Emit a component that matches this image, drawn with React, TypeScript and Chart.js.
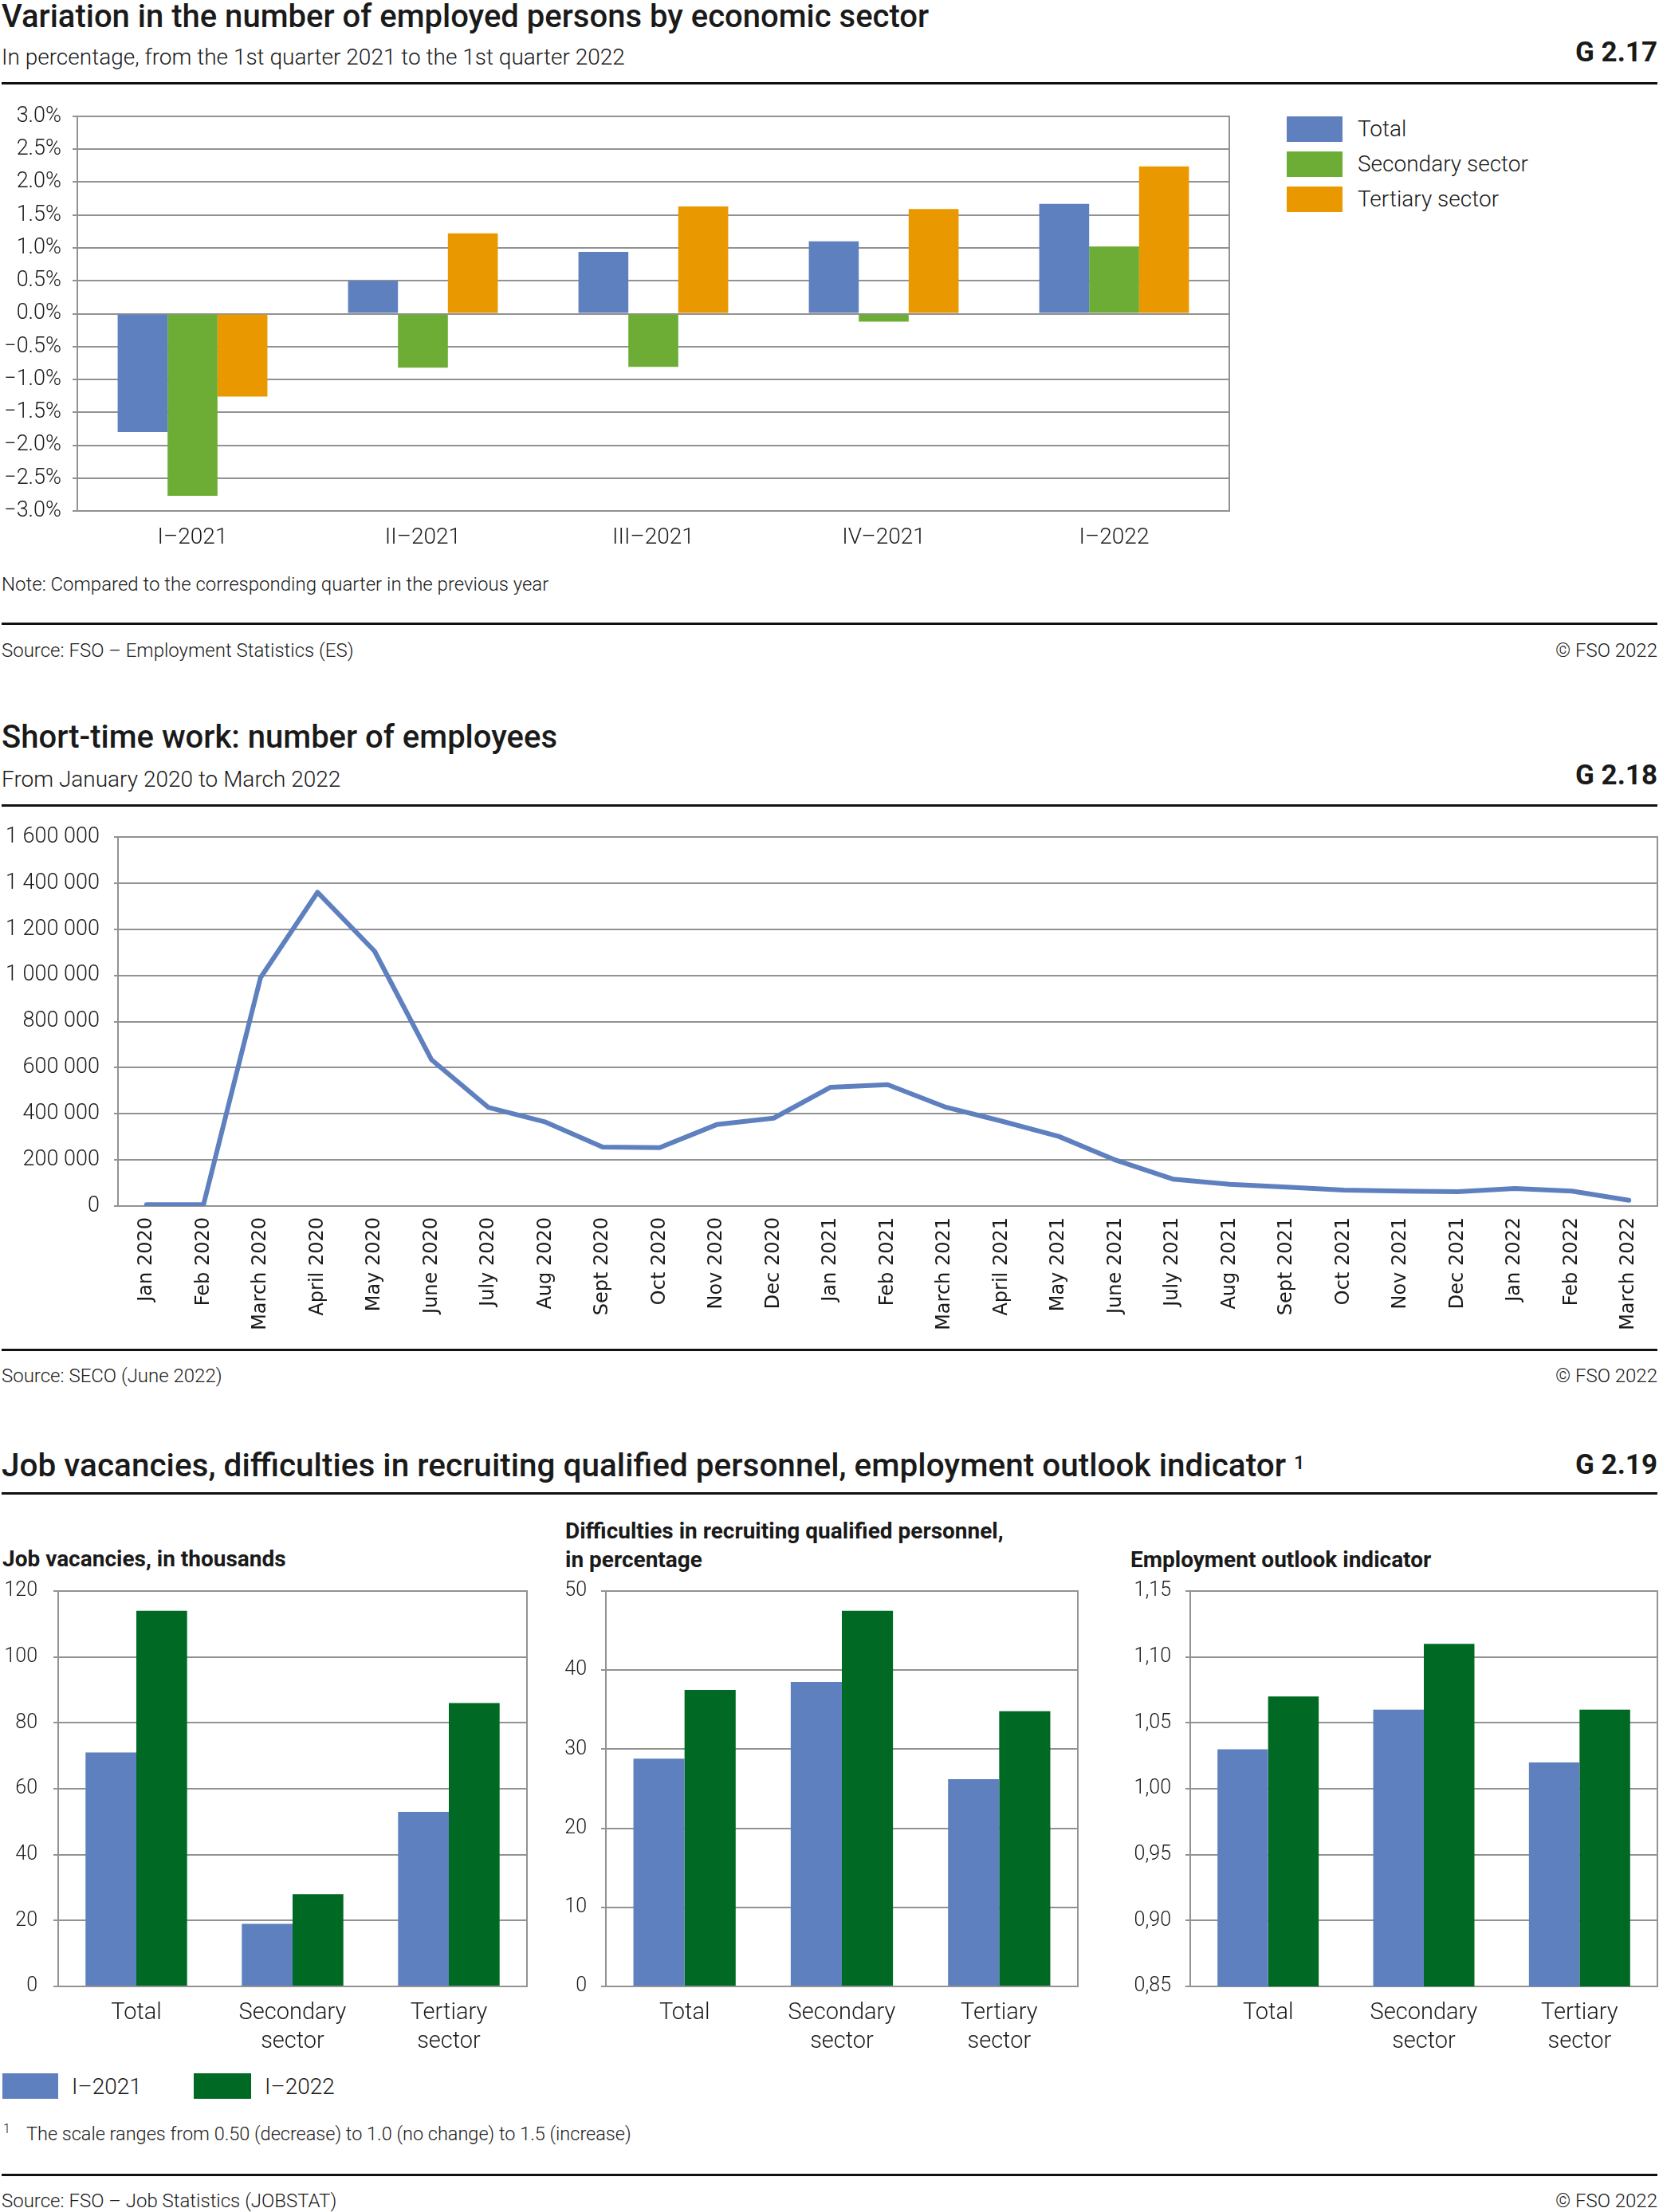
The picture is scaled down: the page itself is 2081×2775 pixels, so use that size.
import React, { useEffect, useRef } from 'react';
import { Chart, registerables } from 'chart.js';

Chart.register(...registerables);

// ---------------- data ----------------
const quarterLabels = ['I–2021', 'II–2021', 'III–2021', 'IV–2021', 'I–2022'];
const changeSeriesNames = ['Total', 'Secondary sector', 'Tertiary sector'];
const totalChange = [-1.8, 0.5, 0.94, 1.1, 1.67];
const secondaryChange = [-2.77, -0.82, -0.81, -0.12, 1.02];
const tertiaryChange = [-1.26, 1.22, 1.63, 1.59, 2.24];

const monthLabels = [
  'Jan 2020', 'Feb 2020', 'March 2020', 'April 2020', 'May 2020', 'June 2020', 'July 2020',
  'Aug 2020', 'Sept 2020', 'Oct 2020', 'Nov 2020', 'Dec 2020', 'Jan 2021', 'Feb 2021',
  'March 2021', 'April 2021', 'May 2021', 'June 2021', 'July 2021', 'Aug 2021', 'Sept 2021',
  'Oct 2021', 'Nov 2021', 'Dec 2021', 'Jan 2022', 'Feb 2022', 'March 2022',
];
const shortTimeWorkers = [
  6000, 6000, 990000, 1360000, 1105000, 634000, 427000, 364000, 256000, 253000, 353000, 381000,
  515000, 526000, 430000, 368000, 302000, 199000, 117000, 94000, 82000, 69000, 65000, 62000,
  76000, 65000, 25000,
];

const sectorLabels = ['Total', 'Secondary sector', 'Tertiary sector'];
const periodNames = ['I–2021', 'I–2022'];
const vacancies2021 = [71, 19, 53];
const vacancies2022 = [114, 28, 86];
const difficulty2021 = [28.8, 38.5, 26.2];
const difficulty2022 = [37.5, 47.5, 34.8];
const outlook2021 = [1.03, 1.06, 1.02];
const outlook2022 = [1.07, 1.11, 1.06];

// ---------------- styles ----------------
const BLUE = '#5f80bf';
const LGREEN = '#6dac35';
const ORANGE = '#e99800';
const DGREEN = '#006a24';
const GRID = '#929292';
const TEXT = '#1a1a1a';
const FONT = 'Roboto';

Chart.defaults.color = TEXT;
Chart.defaults.font.family = FONT;

const framePlugin = {
  id: 'frame',
  beforeDatasetsDraw(chart: any) {
    const { ctx, chartArea: a } = chart;
    ctx.save();
    ctx.strokeStyle = GRID;
    ctx.lineWidth = 2;
    ctx.strokeRect(a.left, a.top, a.right - a.left, a.bottom - a.top);
    ctx.restore();
  },
};

const lightFont = (size: number, lineHeight = 1.2) => ({ family: FONT, size, weight: '300' as any, lineHeight });

function ChartCanvas({ left, top, width, height, config }: any) {
  const ref = useRef<HTMLCanvasElement>(null);
  useEffect(() => {
    const chart = new Chart(ref.current as HTMLCanvasElement, config);
    return () => chart.destroy();
  }, []);
  return (
    <canvas
      ref={ref}
      width={width}
      height={height}
      style={{ position: 'absolute', left, top, width, height }}
    />
  );
}

const baseOptions = {
  responsive: false,
  animation: false,
  devicePixelRatio: 1,
  plugins: { legend: { display: false }, tooltip: { enabled: false } },
};

// fixes the y axis width and removes its automatic label padding
const fixY = (w: number) => (s: any) => {
  s.width = w;
  s.paddingTop = 0;
  s.paddingBottom = 0;
};
const fixX = (h: number) => (s: any) => {
  s.height = h;
  s.paddingLeft = 0;
  s.paddingRight = 0;
};

const fmtPct = (v: number) => (v < 0 ? '−' : '') + Math.abs(v).toFixed(1) + '%';
const fmtSpace = (v: number) => String(Math.round(v)).replace(/\B(?=(\d{3})+(?!\d))/g, ' ');

const changeConfig: any = {
  type: 'bar',
  data: {
    labels: quarterLabels,
    datasets: [
      { label: changeSeriesNames[0], data: totalChange, backgroundColor: BLUE },
      { label: changeSeriesNames[1], data: secondaryChange, backgroundColor: LGREEN },
      { label: changeSeriesNames[2], data: tertiaryChange, backgroundColor: ORANGE },
    ],
  },
  options: {
    ...baseOptions,
    layout: { padding: { top: 26, right: 18, left: 0, bottom: 0 } },
    datasets: { bar: { categoryPercentage: 0.65, barPercentage: 1 } },
    scales: {
      x: {
        grid: { display: false, drawTicks: false },
        border: { display: false },
        ticks: { font: lightFont(28), color: TEXT, padding: 17 },
        afterFit: fixX(59),
      },
      y: {
        min: -3,
        max: 3,
        ticks: { stepSize: 0.5, font: lightFont(27), color: TEXT, padding: 14, callback: (v: any) => fmtPct(Number(v)) },
        grid: { color: GRID, lineWidth: 2, tickLength: 6 },
        border: { display: false },
        afterFit: fixY(97),
      },
    },
  },
  plugins: [framePlugin],
};

const stwConfig: any = {
  type: 'line',
  data: {
    labels: monthLabels,
    datasets: [
      {
        data: shortTimeWorkers,
        borderColor: BLUE,
        borderWidth: 6,
        pointRadius: 0,
        tension: 0,
        fill: false,
        borderJoinStyle: 'round',
        borderCapStyle: 'round',
      },
    ],
  },
  options: {
    ...baseOptions,
    layout: { padding: { top: 30, right: 2, left: 0, bottom: 0 }, autoPadding: false },
    scales: {
      x: {
        offset: true,
        grid: { display: false, drawTicks: false },
        border: { display: false },
        ticks: {
          autoSkip: false,
          minRotation: 90,
          maxRotation: 90,
          font: { family: 'DejaVu Sans', size: 24, lineHeight: 1.2 },
          color: TEXT,
          padding: 14,
        },
        afterFit: fixX(177),
      },
      y: {
        min: 0,
        max: 1600000,
        ticks: { stepSize: 200000, font: lightFont(27), color: TEXT, padding: 18, callback: (v: any) => fmtSpace(Number(v)) },
        grid: { color: GRID, lineWidth: 2, tickLength: 5 },
        border: { display: false },
        afterFit: fixY(148),
      },
    },
  },
  plugins: [framePlugin],
};

function sectorConfig(d1: number[], d2: number[], min: number, max: number, step: number, fmt: (v: number) => string, yw: number, pr: number, pad: number) {
  return {
    type: 'bar',
    data: {
      labels: sectorLabels,
      datasets: [
        { label: periodNames[0], data: d1, backgroundColor: BLUE },
        { label: periodNames[1], data: d2, backgroundColor: DGREEN },
      ],
    },
    options: {
      ...baseOptions,
      layout: { padding: { top: 16, right: pr, left: 0, bottom: 0 } },
      datasets: { bar: { categoryPercentage: 0.65, barPercentage: 1 } },
      scales: {
        x: {
          grid: { display: false, drawTicks: false },
          border: { display: false },
          ticks: {
            font: lightFont(29, 1.24),
            color: TEXT,
            padding: 16,
            callback: (_v: any, i: number) => sectorLabels[i].split(' '),
          },
          afterFit: fixX(98),
        },
        y: {
          min,
          max,
          ticks: { stepSize: step, font: lightFont(25), color: TEXT, padding: pad, callback: (v: any) => fmt(Number(v)) },
          grid: { color: GRID, lineWidth: 2, tickLength: 6 },
          border: { display: false },
          afterFit: fixY(yw),
        },
      },
    },
    plugins: [framePlugin],
  } as any;
}

const vacConfig = sectorConfig(vacancies2021, vacancies2022, 0, 120, 20, (v) => String(v), 73, 19, 20);
const diffConfig = sectorConfig(difficulty2021, difficulty2022, 0, 50, 10, (v) => String(v), 80, 18, 18);
const outlookConfig = sectorConfig(outlook2021, outlook2022, 0.85, 1.15, 0.05, (v) => v.toFixed(2).replace('.', ','), 113, 2, 18);

// ---------------- layout helpers ----------------
function Txt({ x, right, cy, size, weight = 300, children, family }: any) {
  const lh = size * 1.2;
  const s: any = {
    position: 'absolute',
    top: cy - lh / 2,
    fontSize: size,
    lineHeight: lh + 'px',
    fontWeight: weight,
    whiteSpace: 'nowrap',
    color: TEXT,
  };
  if (family) s.fontFamily = family;
  if (right !== undefined) s.right = right;
  else s.left = x;
  return <div style={s}>{children}</div>;
}

function Rule({ y, thick = 3 }: any) {
  return <div style={{ position: 'absolute', left: 2, width: 2077, top: y - thick / 2, height: thick, background: '#111' }} />;
}

function Swatch({ x, y, w, h, color }: any) {
  return <div style={{ position: 'absolute', left: x, top: y, width: w, height: h, background: color }} />;
}

export default function App() {
  return (
    <div
      style={{
        position: 'absolute',
        left: 0,
        top: 0,
        width: 2081,
        height: 2775,
        background: '#fff',
        fontFamily: FONT,
        overflow: 'hidden',
      }}
    >
      {/* ---------- G 2.17 ---------- */}
      <Txt x={2} cy={21} size={40} weight={500}>Variation in the number of employed persons by economic sector</Txt>
      <Txt x={2} cy={72} size={28}>In percentage, from the 1st quarter 2021 to the 1st quarter 2022</Txt>
      <Txt right={2} cy={66} size={35} weight={700}>G 2.17</Txt>
      <Rule y={104} />
      <ChartCanvas left={0} top={120} width={1560} height={580} config={changeConfig} />
      <Swatch x={1614} y={146} w={70} h={32} color={BLUE} />
      <Swatch x={1614} y={190} w={70} h={32} color={LGREEN} />
      <Swatch x={1614} y={234} w={70} h={32} color={ORANGE} />
      <Txt x={1703} cy={162} size={28}>{changeSeriesNames[0]}</Txt>
      <Txt x={1703} cy={206} size={28}>{changeSeriesNames[1]}</Txt>
      <Txt x={1703} cy={250} size={28}>{changeSeriesNames[2]}</Txt>
      <Txt x={2} cy={733} size={24}>Note: Compared to the corresponding quarter in the previous year</Txt>
      <Rule y={782} />
      <Txt x={2} cy={816} size={24}>Source: FSO – Employment Statistics (ES)</Txt>
      <Txt right={2} cy={816} size={24}>© FSO 2022</Txt>

      {/* ---------- G 2.18 ---------- */}
      <Txt x={2} cy={925} size={40} weight={500}>Short-time work: number of employees</Txt>
      <Txt x={2} cy={978} size={28}>From January 2020 to March 2022</Txt>
      <Txt right={2} cy={973} size={35} weight={700}>G 2.18</Txt>
      <Rule y={1010} />
      <ChartCanvas left={0} top={1020} width={2081} height={670} config={stwConfig} />
      <Rule y={1693} />
      <Txt x={2} cy={1726} size={24}>Source: SECO (June 2022)</Txt>
      <Txt right={2} cy={1726} size={24}>© FSO 2022</Txt>

      {/* ---------- G 2.19 ---------- */}
      <Txt x={2} cy={1838} size={40.5} weight={500}>
        Job vacancies, difficulties in recruiting qualified personnel, employment outlook indicator{' '}
        <span style={{ fontSize: 24, verticalAlign: 'top', position: 'relative', top: -3 }}>1</span>
      </Txt>
      <Txt right={2} cy={1838} size={35} weight={700}>G 2.19</Txt>
      <Rule y={1873} />

      <Txt x={3} cy={1956} size={28} weight={700}>Job vacancies, in thousands</Txt>
      <Txt x={709} cy={1921} size={28} weight={700}>Difficulties in recruiting qualified personnel,</Txt>
      <Txt x={709} cy={1957} size={28} weight={700}>in percentage</Txt>
      <Txt x={1418} cy={1957} size={28} weight={700}>Employment outlook indicator</Txt>

      <ChartCanvas left={0} top={1980} width={680} height={610} config={vacConfig} />
      <ChartCanvas left={680} top={1980} width={690} height={610} config={diffConfig} />
      <ChartCanvas left={1380} top={1980} width={701} height={610} config={outlookConfig} />

      <Swatch x={3} y={2601} w={70} h={32} color={BLUE} />
      <Txt x={90} cy={2618} size={28}>{periodNames[0]}</Txt>
      <Swatch x={243} y={2601} w={72} h={32} color={DGREEN} />
      <Txt x={332} cy={2618} size={28}>{periodNames[1]}</Txt>

      <Txt x={4} cy={2671} size={16}>1</Txt>
      <Txt x={33} cy={2677} size={23.5}>The scale ranges from 0.50 (decrease) to 1.0 (no change) to 1.5 (increase)</Txt>
      <Rule y={2728} />
      <Txt x={2} cy={2761} size={24}>Source: FSO – Job Statistics (JOBSTAT)</Txt>
      <Txt right={2} cy={2761} size={24}>© FSO 2022</Txt>
    </div>
  );
}
